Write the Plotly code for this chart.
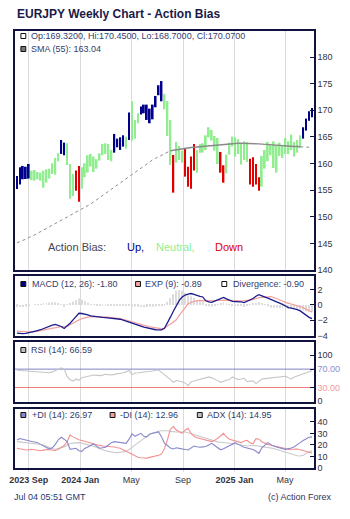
import pandas as pd
import plotly.graph_objects as go

# ---------------- data ----------------
dates = pd.date_range("2023-08-04", periods=101, freq="7D")

high = [157.67, 159.30, 159.55, 159.40, 159.92, 158.67, 158.79, 158.42, 158.29, 158.67,
        158.92, 159.04, 160.05, 161.05, 161.93, 164.43, 163.93, 163.81, 159.92, 158.04,
        158.67, 159.55, 159.30, 160.05, 161.55, 161.80, 161.30, 160.80, 161.93, 163.68,
        163.81, 163.68, 162.55, 165.56, 164.68, 164.93, 165.31, 165.06, 169.57, 171.70,
        168.19, 169.44, 170.70, 171.07, 171.07, 170.32, 171.07, 172.70, 174.71, 175.50,
        173.08, 171.75, 168.19, 161.61, 164.06, 163.30, 162.43, 162.93, 159.42, 161.30,
        163.68, 162.55, 163.68, 163.80, 165.31, 166.81, 166.31, 165.18, 164.81, 162.18,
        159.67, 161.68, 163.93, 165.06, 164.93, 164.56, 163.80, 164.18, 164.06, 160.92,
        161.17, 159.92, 157.42, 161.43, 162.55, 164.06, 163.43, 164.18, 163.43, 163.93,
        163.43, 164.81, 164.18, 165.43, 164.06, 164.43, 165.31, 166.81, 168.44, 169.82,
        170.45]
low = [155.22, 156.04, 157.04, 157.10, 157.17, 156.90, 156.79, 157.04, 156.79, 155.47,
       156.41, 157.17, 158.04, 157.92, 160.42, 161.80, 161.55, 159.73, 153.40, 153.90,
       154.90, 152.84, 155.28, 157.42, 158.29, 159.42, 158.42, 159.04, 160.55, 161.55,
       161.80, 160.67, 160.42, 162.05, 163.05, 162.55, 163.18, 162.80, 164.43, 164.31,
       164.68, 167.57, 169.19, 169.44, 168.19, 167.57, 168.30, 170.57, 172.83, 171.70,
       170.20, 165.18, 159.73, 154.53, 160.17, 160.67, 160.17, 157.54, 155.66, 155.28,
       158.67, 158.29, 162.05, 162.05, 162.55, 164.93, 164.31, 162.43, 159.92, 158.29,
       156.41, 158.17, 161.68, 163.18, 161.30, 161.80, 159.80, 160.67, 160.30, 156.04,
       155.66, 156.04, 154.91, 155.66, 159.04, 160.42, 161.55, 159.17, 158.29, 161.43,
       161.05, 161.80, 161.80, 162.55, 161.30, 162.05, 162.93, 164.68, 166.19, 168.06,
       168.70]
bias = list("UUUUU" "NNNNNNNNNN" "UU" "NNN" "DD" "NNNNNNNNNNN" "UUUU" "N" "U" "NNN"
            "UUUUUUUU" "NNN" "D" "NNN" "DDDD" "NNNNNNNN" "DD" "NNNNNNNN" "DDDD"
            "NNNNNNNNNNNNNN" "UUUU")

sma55 = [145.1, 145.3, 145.6, 145.8, 146.1, 146.3, 146.6, 146.9, 147.2, 147.5,
         147.8, 148.1, 148.4, 148.7, 149.0, 149.3, 149.6, 149.9, 150.2, 150.5,
         150.8, 151.1, 151.4, 151.7, 152.0, 152.4, 152.8, 153.2, 153.6, 154.0,
         154.4, 154.8, 155.2, 155.6, 156.0, 156.4, 156.8, 157.2, 157.6, 158.0,
         158.4, 158.8, 159.2, 159.6, 160.0, 160.4, 160.7, 161.0, 161.3, 161.6,
         161.9, 162.2, 162.4, 162.5, 162.6, 162.7, 162.8, 162.85, 162.9, 163.0,
         163.05, 163.1, 163.15, 163.2, 163.3, 163.35, 163.4, 163.5, 163.55, 163.6,
         163.65, 163.7, 163.75, 163.8, 163.8, 163.8, 163.8, 163.8, 163.8, 163.8,
         163.75, 163.7, 163.7, 163.65, 163.6, 163.55, 163.5, 163.5, 163.45, 163.4,
         163.35, 163.3, 163.3, 163.25, 163.2, 163.2, 163.15, 163.1, 163.1, 163.05,
         163.04]

macd = [-3.69, -3.74, -3.77, -3.72, -3.65, -3.56, -3.45, -3.35, -3.25, -3.08,
        -2.92, -2.76, -2.65, -2.56, -2.68, -2.82, -3.08, -2.75, -2.39, -1.95,
        -1.52, -1.09, -1.12, -1.17, -1.30, -1.43, -1.50, -1.56, -1.61, -1.64,
        -1.67, -1.69, -1.73, -1.78, -1.83, -1.87, -1.98, -2.10, -2.21, -2.34,
        -2.47, -2.62, -2.78, -2.92, -3.02, -3.10, -3.18, -3.25, -3.26, -3.27,
        -3.05, -2.39, -1.60, -0.83, -0.10, 0.60, 1.05, 1.30, 1.42, 1.50,
        1.40, 1.21, 1.12, 1.05, 0.55, 0.40, 0.34, 0.50, 0.64, 0.82,
        0.99, 0.80, 0.65, 0.47, 0.45, 0.47, 0.40, 0.30, 0.48, 0.64,
        0.85, 1.15, 1.34, 1.20, 1.08, 0.90, 0.73, 0.60, 0.47, 0.25,
        0.08, -0.15, -0.35, -0.42, -0.48, -0.60, -0.78, -1.05, -1.39, -1.62,
        -1.80]
exp9 = [-3.43, -3.46, -3.50, -3.53, -3.55, -3.56, -3.50, -3.42, -3.33, -3.25,
        -3.17, -3.08, -3.00, -2.93, -2.88, -2.85, -2.83, -2.82, -2.60, -2.37,
        -2.15, -1.95, -1.80, -1.66, -1.58, -1.54, -1.52, -1.52, -1.54, -1.56,
        -1.58, -1.61, -1.65, -1.69, -1.73, -1.78, -1.88, -1.98, -2.08, -2.17,
        -2.26, -2.38, -2.50, -2.63, -2.76, -2.88, -2.96, -3.04, -3.09, -3.12,
        -3.00, -2.80, -2.50, -2.25, -1.95, -1.35, -0.80, -0.30, 0.15, 0.35,
        0.50, 0.58, 0.60, 0.58, 0.57, 0.56, 0.56, 0.58, 0.60, 0.63,
        0.64, 0.62, 0.60, 0.57, 0.56, 0.55, 0.55, 0.56, 0.56, 0.62,
        0.72, 0.85, 0.95, 1.00, 1.04, 1.06, 1.08, 0.98, 0.85, 0.68,
        0.52, 0.35, 0.18, 0.10, 0.02, -0.08, -0.15, -0.35, -0.55, -0.78,
        -0.89]
divergence = [-0.26, -0.28, -0.27, -0.19, -0.10, 0.00, 0.05, 0.07, 0.08, 0.17,
              0.25, 0.32, 0.35, 0.37, 0.20, 0.03, -0.25, 0.07, 0.21, 0.42,
              0.63, 0.86, 0.68, 0.49, 0.28, 0.11, 0.02, -0.04, -0.07, -0.08,
              -0.09, -0.08, -0.08, -0.09, -0.10, -0.09, -0.10, -0.12, -0.13, -0.17,
              -0.21, -0.24, -0.28, -0.29, -0.26, -0.22, -0.22, -0.21, -0.17, -0.15,
              -0.05, 0.41, 0.90, 1.42, 1.85, 1.95, 1.85, 1.60, 1.27, 1.15,
              0.90, 0.63, 0.52, 0.47, -0.02, -0.16, -0.22, -0.08, 0.04, 0.19,
              0.35, 0.18, 0.05, -0.10, -0.11, -0.08, -0.15, -0.26, -0.08, 0.02,
              0.13, 0.30, 0.39, 0.20, 0.04, -0.16, -0.35, -0.38, -0.38, -0.43,
              -0.44, -0.50, -0.53, -0.52, -0.50, -0.52, -0.63, -0.70, -0.84, -0.84,
              -0.90]

rsi = [67.5, 67.0, 66.5, 66.0, 65.5, 65.0, 64.5, 65.0, 64.0, 64.5,
       63.5, 62.0, 64.0, 67.0, 70.0, 73.0, 70.0, 54.0, 47.0, 44.0,
       48.6, 45.7, 51.5, 53.0, 54.4, 56.0, 57.3, 56.5, 55.8, 57.0,
       58.7, 58.0, 57.3, 58.5, 59.5, 60.2, 62.0, 64.0, 67.4, 58.0,
       61.6, 62.0, 62.5, 63.0, 64.0, 64.5, 66.0, 67.4, 68.2, 63.0,
       58.0, 53.7, 47.0, 41.4, 45.0, 44.0, 42.8, 40.0, 34.1, 42.8,
       44.0, 45.7, 48.0, 50.0, 51.5, 53.0, 51.0, 48.6, 45.0, 41.4,
       44.0, 46.0, 47.2, 53.0, 50.0, 47.2, 48.5, 50.0, 42.8, 43.5,
       44.3, 38.5, 44.0, 48.6, 49.3, 50.0, 50.7, 51.5, 52.0, 53.0,
       53.5, 54.4, 51.0, 48.6, 53.0, 55.5, 58.7, 60.5, 63.0, 64.5,
       66.59]

plus_di = [24.3, 25.5, 25.0, 24.2, 23.6, 23.0, 22.5, 22.0, 20.5, 19.0,
           17.5, 16.4, 17.5, 20.5, 24.5, 26.7, 25.0, 22.9, 16.2, 16.8,
           17.1, 15.0, 14.4, 17.0, 18.5, 20.0, 20.9, 19.0, 17.1, 17.5,
           18.0, 20.0, 22.0, 22.9, 22.5, 22.0, 21.7, 21.4, 25.0, 29.6,
           27.5, 28.5, 30.1, 27.5, 27.0, 29.6, 30.0, 30.8, 31.3, 27.0,
           21.4, 19.5, 17.3, 16.5, 17.5, 17.0, 16.2, 16.0, 15.6, 17.0,
           19.1, 18.5, 18.0, 18.3, 18.6, 20.0, 21.4, 19.5, 17.5, 15.8,
           16.8, 18.0, 19.5, 21.0, 22.0, 20.5, 19.1, 18.0, 17.4, 16.8,
           16.0, 14.5, 12.7, 17.5, 20.0, 22.0, 20.5, 19.0, 18.3, 17.2,
           16.8, 16.2, 16.5, 17.4, 18.5, 20.0, 22.0, 23.8, 25.5, 26.7,
           26.97]
minus_di = [17.1, 16.5, 15.8, 15.6, 15.9, 16.2, 15.8, 15.4, 15.0, 15.5,
            16.0, 15.8, 15.3, 15.2, 16.2, 17.5, 19.5, 23.0, 28.7, 27.0,
            25.5, 24.5, 23.8, 23.0, 22.4, 21.8, 20.8, 20.2, 19.6, 19.1,
            19.0, 18.8, 18.6, 18.2, 17.6, 17.1, 15.8, 14.5, 13.3, 11.5,
            10.0, 9.4, 8.9, 8.5, 8.6, 9.2, 9.6, 10.0, 11.0, 12.2,
            17.0, 24.5, 33.5, 36.0, 33.0, 31.5, 30.1, 33.0, 34.5, 30.0,
            27.5, 26.3, 25.6, 25.1, 24.7, 23.8, 22.9, 24.0, 25.6, 27.8,
            30.1, 27.0, 25.0, 24.2, 23.6, 22.8, 22.0, 23.5, 24.0, 22.0,
            21.0, 25.5, 25.0, 22.8, 21.5, 20.5, 19.7, 19.2, 18.7, 18.4,
            18.1, 17.0, 16.0, 16.2, 16.8, 16.5, 15.8, 15.0, 14.0, 13.4,
            12.96]
adx = [22.9, 22.5, 22.2, 21.9, 21.6, 21.4, 21.1, 20.8, 20.4, 20.0,
       18.8, 17.6, 16.6, 16.3, 16.8, 17.5, 18.2, 19.8, 21.2, 21.6,
       21.9, 22.0, 21.6, 20.9, 20.3, 19.8, 18.8, 17.7, 16.6, 15.7,
       15.0, 14.4, 13.8, 13.4, 13.3, 13.5, 13.9, 14.4, 16.0, 18.2,
       19.8, 21.8, 23.8, 25.8, 27.5, 29.0, 30.4, 31.4, 31.9, 32.3,
       32.5, 32.3, 31.8, 31.4, 31.3, 31.3, 31.3, 31.3, 30.6, 29.8,
       29.0, 28.1, 27.2, 26.3, 25.6, 24.7, 23.8, 23.0, 22.7, 22.4,
       22.1, 21.9, 21.7, 21.5, 21.3, 20.6, 19.9, 19.2, 19.1, 19.3,
       19.6, 19.5, 19.0, 18.7, 18.4, 17.9, 17.4, 16.9, 16.1, 15.3,
       14.5, 13.6, 12.7, 11.8, 11.0, 10.6, 10.4, 11.0, 12.5, 13.8,
       14.95]

x_tickvals = ["2023-09-01", "2024-01-01", "2024-05-01", "2024-09-01", "2025-01-01", "2025-05-01"]
x_ticktext = ["<b>2023 Sep</b>", "<b>2024 Jan</b>", "May", "Sep", "<b>2025 Jan</b>", "May"]
price_ticks = [140, 145, 150, 155, 160, 165, 170, 175, 180]
macd_ticks = [-4, -2, 0, 2]
rsi_ticks = [0, 30, 70, 100]
rsi_ticktext = ["0", "<span style='color:#f29a9a'>30.00</span>",
                "<span style='color:#8c8cd2'>70.00</span>", "100"]
rsi_upper, rsi_lower = 70, 30
adx_ticks = [0, 10, 20, 30, 40]

# ---------------- geometry helpers (pixel -> paper) ----------------
W, H = 350, 519
ML, MR, MT, MB = 10, 35, 31, 51
PW, PH = W - ML - MR, H - MT - MB


def xp(px):
    return (px - ML) / PW


def yp(py):
    return (H - MB - py) / PH


FONT = "Liberation Sans, Arial, sans-serif"
AXIS_COL = "#12123e"
GRID_COL = "#dadada"
TXT_COL = "#33406c"
colors = {"U": "#00008B", "N": "#90EE90", "D": "#E00000"}
DAY = 86400000
x_range = ["2023-07-30 08:00", "2025-07-08 16:00"]

fig = go.Figure()

# ---- main panel: bias-coloured range bars ----
fig.add_trace(go.Bar(
    x=dates, y=[h - l for h, l in zip(high, low)], base=low,
    width=4.2 * DAY, marker=dict(color=[colors[b] for b in bias], line=dict(width=0)),
    xaxis="x", yaxis="y", hoverinfo="skip"))
# SMA 55
fig.add_trace(go.Scatter(x=dates[:53], y=sma55[:53], mode="lines",
                         line=dict(color="#8c8c8c", width=1, dash="dot"),
                         xaxis="x", yaxis="y", hoverinfo="skip"))
fig.add_trace(go.Scatter(x=dates[52:97], y=sma55[52:97], mode="lines",
                         line=dict(color="#8a8a8a", width=1.4),
                         xaxis="x", yaxis="y", hoverinfo="skip"))
fig.add_trace(go.Scatter(x=dates[96:], y=sma55[96:], mode="lines",
                         line=dict(color="#8c8c8c", width=1, dash="dot"),
                         xaxis="x", yaxis="y", hoverinfo="skip"))

# ---- MACD panel ----
fig.add_trace(go.Bar(x=dates, y=divergence, width=2.2 * DAY,
                     marker=dict(color="#dcdcdc", line=dict(width=0)),
                     xaxis="x2", yaxis="y2", hoverinfo="skip"))
fig.add_trace(go.Scatter(x=dates, y=exp9, mode="lines",
                         line=dict(color="#f4a3a3", width=1.3),
                         xaxis="x2", yaxis="y2", hoverinfo="skip"))
fig.add_trace(go.Scatter(x=dates, y=macd, mode="lines",
                         line=dict(color="#1c1c8c", width=1.3),
                         xaxis="x2", yaxis="y2", hoverinfo="skip"))

# ---- RSI panel ----
fig.add_trace(go.Scatter(x=x_range, y=[rsi_upper, rsi_upper], mode="lines",
                         line=dict(color="#8282c8", width=1),
                         xaxis="x3", yaxis="y3", hoverinfo="skip"))
fig.add_trace(go.Scatter(x=x_range, y=[rsi_lower, rsi_lower], mode="lines",
                         line=dict(color="#f07c7c", width=1.2),
                         xaxis="x3", yaxis="y3", hoverinfo="skip"))
fig.add_trace(go.Scatter(x=dates, y=rsi, mode="lines",
                         line=dict(color="#c6c6c6", width=1.1),
                         xaxis="x3", yaxis="y3", hoverinfo="skip"))

# ---- ADX panel ----
fig.add_trace(go.Scatter(x=dates, y=adx, mode="lines",
                         line=dict(color="#cacaca", width=1.1),
                         xaxis="x4", yaxis="y4", hoverinfo="skip"))
fig.add_trace(go.Scatter(x=dates, y=minus_di, mode="lines",
                         line=dict(color="#f29090", width=1.1),
                         xaxis="x4", yaxis="y4", hoverinfo="skip"))
fig.add_trace(go.Scatter(x=dates, y=plus_di, mode="lines",
                         line=dict(color="#8888cc", width=1.1),
                         xaxis="x4", yaxis="y4", hoverinfo="skip"))

domains = {
    "y": [yp(270), 1.0],
    "y2": [yp(336), yp(276)],
    "y3": [yp(402), yp(342)],
    "y4": [0.0, yp(409)],
}

xcommon = dict(type="date", range=x_range, tickvals=x_tickvals, ticktext=x_ticktext,
               showgrid=True, gridcolor=GRID_COL, gridwidth=1,
               showline=True, linecolor=AXIS_COL, linewidth=1.5, mirror=True,
               zeroline=False, domain=[0, 1], fixedrange=True)
ycommon = dict(side="right", showgrid=False, showline=True, linecolor=AXIS_COL,
               linewidth=1.5, mirror=True, ticks="inside", ticklen=4,
               tickcolor=AXIS_COL, zeroline=False, fixedrange=True,
               tickfont=dict(size=9, color="#333344", family=FONT))

layout = dict(
    width=W, height=H,
    margin=dict(l=ML, r=MR, t=MT, b=MB, pad=0),
    paper_bgcolor="white", plot_bgcolor="white",
    showlegend=False, barmode="overlay",
    font=dict(family=FONT, size=9, color="#333344"),
    xaxis=dict(xcommon, anchor="y", showticklabels=False, ticks=""),
    xaxis2=dict(xcommon, anchor="y2", matches="x", showticklabels=False, ticks=""),
    xaxis3=dict(xcommon, anchor="y3", matches="x", showticklabels=False, ticks=""),
    xaxis4=dict(xcommon, anchor="y4", matches="x", showticklabels=True,
                ticks="outside", ticklen=2, tickcolor=GRID_COL,
                tickfont=dict(size=9, color="#333344", family=FONT)),
    yaxis=dict(ycommon, anchor="x", domain=domains["y"], range=[140, 184.9],
               tickvals=price_ticks),
    yaxis2=dict(ycommon, anchor="x2", domain=domains["y2"], range=[-4.07, 3.8],
                tickvals=macd_ticks),
    yaxis3=dict(ycommon, anchor="x3", domain=domains["y3"], range=[-1.5, 129],
                tickvals=rsi_ticks, ticktext=rsi_ticktext),
    yaxis4=dict(ycommon, anchor="x4", domain=domains["y4"], range=[0, 51.2],
                tickvals=adx_ticks),
)
fig.update_layout(**layout)

annotations = []
shapes = []


def text(px, py, s, size=9, color=TXT_COL, anchor="left"):
    annotations.append(dict(x=xp(px), y=yp(py), xref="paper", yref="paper", text=s,
                            showarrow=False, xanchor=anchor, yanchor="middle",
                            font=dict(size=size, color=color, family=FONT)))


def square(px, py, fill):
    shapes.append(dict(type="rect", xref="paper", yref="paper",
                       x0=xp(px), x1=xp(px + 5), y0=yp(py + 2.5), y1=yp(py - 2.5),
                       fillcolor=fill, line=dict(color="#111111", width=1)))


# title
text(10, 14, "<b>EURJPY Weekly Chart - Action Bias</b>", size=12, color="#1a1a48")
# main legend
square(16, 36, "white")
text(24, 36, "Op:169.3200, Hi:170.4500, Lo:168.7000, Cl:170.0700")
square(16, 49, "#777777")
text(24, 49, "SMA (55): 163.04")
# action bias
text(42, 247, "Action Bias:", size=11, color="#444455")
text(122, 247, "Up,", size=11, color="#00008B")
text(152, 247, "Neutral,", size=11, color="#90EE90")
text(212, 247, "Down", size=11, color="#E00000")
# MACD legend
square(16, 284, "#000080")
text(25, 284, "MACD (12, 26): -1.80")
square(133, 284, "#f4a3a3")
text(141, 284, "EXP (9): -0.89")
square(221, 284, "white")
text(230, 284, "Divergence: -0.90")
# RSI legend
square(16, 350, "#c0c0c0")
text(24, 350, "RSI (14): 66.59")
# ADX legend
square(16, 415, "#8888cc")
text(25, 415, "+DI (14): 26.97")
square(107, 415, "#f4a0a0")
text(115, 415, "-DI (14): 12.96")
square(196, 415, "#c0c0c0")
text(204, 415, "ADX (14): 14.95")
# footer
text(7, 497, "Jul 04 05:51 GMT", color="#243a78")
text(335, 497, "(c) Action Forex", color="#333355", anchor="right")

fig.update_layout(annotations=annotations)
for s in shapes:
    fig.add_shape(**s)

fig.write_html("out.html", config={"displayModeBar": False})
